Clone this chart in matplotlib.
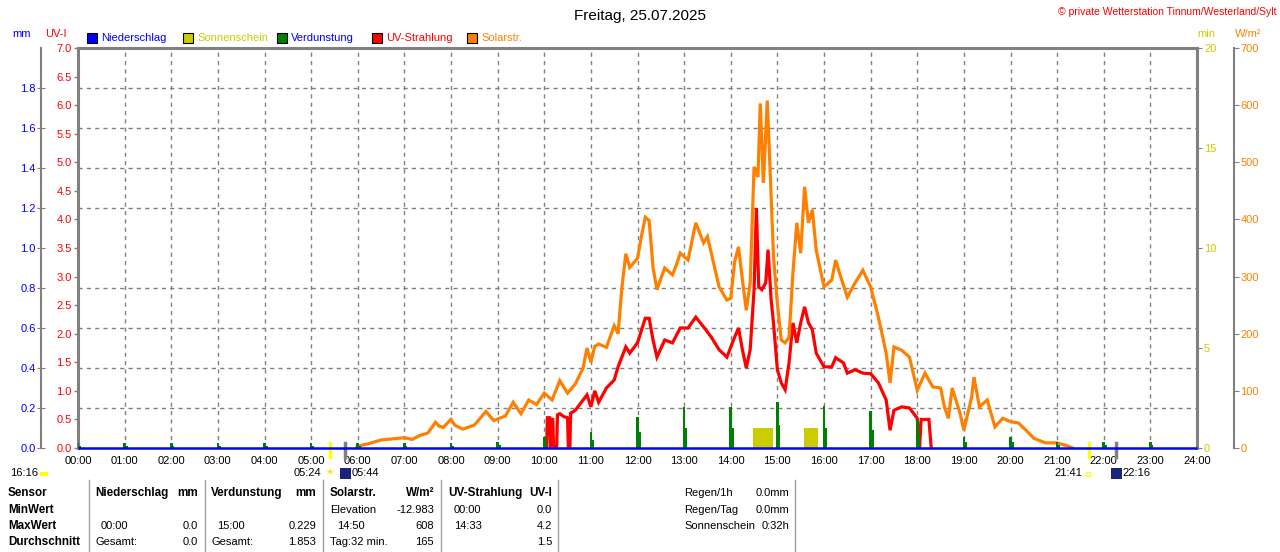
import matplotlib
matplotlib.use("Agg")
import matplotlib.pyplot as plt
from matplotlib.patches import Rectangle
import numpy as np

plt.rcParams['font.family'] = ['Liberation Sans', 'DejaVu Sans']

# ---------------- data ----------------
solar_times = ["05:58","06:00","06:15","06:30","06:45","07:00","07:10","07:20","07:30","07:40","07:45","07:50",
               "08:00","08:05","08:15","08:30","08:45","08:55","09:10","09:20","09:30","09:40","09:50",
               "10:00","10:10","10:20","10:30","10:40","10:50","10:55","11:00","11:05","11:10","11:20","11:30",
               "11:35","11:40","11:45","11:50","12:00","12:05","12:10","12:15","12:20","12:25","12:35","12:45",
               "12:50","12:55","13:05","13:15","13:25","13:30","13:35","13:45","13:55","14:00","14:05","14:10",
               "14:15","14:20","14:25","14:30","14:35","14:38","14:42","14:47","14:50","14:55","15:00","15:05",
               "15:10","15:15","15:20","15:25","15:30","15:35","15:40","15:45","15:50","16:00","16:10","16:15",
               "16:20","16:30","16:40","16:50","17:00","17:10","17:20","17:25","17:30","17:40","17:50","18:00",
               "18:10","18:20","18:30","18:35","18:40","18:45","18:55","19:00","19:10","19:13","19:20","19:30",
               "19:40","19:50","20:00","20:10","20:20","20:30","20:45","21:00","21:15","21:20"]
solar_vals = [0, 3, 8, 14, 16, 18, 15, 22, 26, 45, 38, 36,
              50, 40, 33, 40, 64, 48, 56, 80, 60, 84, 76,
              96, 84, 118, 96, 112, 140, 175, 150, 178, 182, 176, 214,
              200, 282, 340, 316, 332, 370, 404, 398, 316, 277, 315, 303,
              320, 341, 329, 394, 359, 370, 341, 282, 259, 262, 326, 352,
              294, 241, 289, 492, 474, 603, 464, 608, 509, 335, 253, 189,
              184, 194, 306, 394, 341, 457, 394, 417, 346, 282, 294, 329,
              306, 264, 289, 311, 282, 229, 166, 114, 177, 171, 159, 101,
              131, 107, 105, 72, 52, 105, 61, 31, 89, 124, 72, 84,
              37, 52, 46, 44, 31, 17, 9, 9, 3, 0]

uv_times = ["10:03","10:04","10:07","10:08","10:09","10:11","10:12","10:16","10:17","10:20","10:25","10:30",
            "10:31","10:33","10:34","10:40","10:50","10:55","11:00","11:05","11:10","11:20","11:30","11:35",
            "11:45","11:50","12:00","12:10","12:15","12:20","12:25","12:35","12:45","12:55","13:05","13:15",
            "13:25","13:35","13:45","13:55","14:05","14:10","14:15","14:20","14:25","14:30","14:33","14:36",
            "14:40","14:45","14:48","14:52","14:55","15:00","15:05","15:10","15:15","15:20","15:25","15:30",
            "15:35","15:40","15:45","15:50","16:00","16:10","16:15","16:25","16:30","16:40","16:50","17:00",
            "17:10","17:20","17:25","17:30","17:40","17:50","18:00","18:02","18:03","18:05","18:15","18:18"]
uv_vals = [0, 0.53, 0.53, 0, 0.5, 0.5, 0, 0, 0.58, 0.6, 0.55, 0.53,
           0, 0, 0.61, 0.66, 0.84, 0.93, 0.72, 1.0, 0.8, 1.05, 1.19, 1.42,
           1.77, 1.66, 1.84, 2.27, 2.27, 1.89, 1.59, 1.89, 1.84, 2.1, 2.1, 2.29,
           2.12, 1.94, 1.72, 1.59, 1.94, 2.1, 1.72, 1.4, 1.72, 2.77, 4.2, 2.82,
           2.77, 2.89, 3.47, 2.59, 2.19, 1.37, 1.14, 1.02, 1.49, 2.19, 1.84, 2.19,
           2.47, 2.19, 2.07, 1.66, 1.42, 1.42, 1.58, 1.49, 1.31, 1.37, 1.31, 1.3,
           1.14, 0.84, 0.31, 0.66, 0.72, 0.7, 0.52, 0.1, 0, 0.5, 0.5, 0]

evap_hours = list(range(24))
evap_main = [0.025, 0.025, 0.025, 0.025, 0.025, 0.025, 0.027, 0.027, 0.027, 0.03, 0.055, 0.08,
             0.155, 0.205, 0.205, 0.229, 0.21, 0.185, 0.14, 0.055, 0.055, 0.03, 0.03, 0.03]
evap_side = [0.012, 0.012, 0.012, 0.012, 0.012, 0.012, 0.012, 0.012, 0.012, 0.015, 0.03, 0.04,
             0.08, 0.1, 0.1, 0.115, 0.1, 0.09, 0.07, 0.03, 0.03, 0.015, 0.015, 0.015]

sun_start = ["14:29", "15:34"]
sun_end = ["14:54", "15:52"]
sun_minutes = [1.0, 1.0]

rain_hours = [0, 24]
rain_vals = [0.0, 0.0]

sunrise, civil_dawn = "05:24", "05:44"
sunset, civil_dusk = "21:41", "22:16"
day_length = "16:16"

hour_labels = ["%02d:00" % h for h in range(25)]
uv_ticks = [0.0, 0.5, 1.0, 1.5, 2.0, 2.5, 3.0, 3.5, 4.0, 4.5, 5.0, 5.5, 6.0, 6.5, 7.0]
mm_ticks = [0.0, 0.2, 0.4, 0.6, 0.8, 1.0, 1.2, 1.4, 1.6, 1.8]
sun_ticks = [0, 5, 10, 15, 20]
sol_ticks = [0, 100, 200, 300, 400, 500, 600, 700]


def hh(s):
    a, b = s.split(":")
    return int(a) + int(b) / 60.0


# ---------------- colours ----------------
C_BLUE = "#0000ff"
C_YEL = "#cccc00"
C_GRN = "#008000"
C_RED = "#ff0000"
C_ORG = "#ff8000"
C_GRY = "#808080"

W, H = 1280, 552
PX = 72.0 / 100.0  # points per pixel
fig = plt.figure(figsize=(12.8, 5.52), dpi=100)

x0, x1, ytop, ybot = 78, 1197, 48, 448
ax = fig.add_axes([x0 / W, 1 - ybot / H, (x1 - x0) / W, (ybot - ytop) / H])
ax.patch.set_alpha(0)

ax_sun = ax.twinx()
ax_sol = ax.twinx()
ax_mm = ax.twinx()
for a in (ax_sun, ax_sol, ax_mm):
    a.patch.set_alpha(0)

FS = 8

# --- spine positions first (setting them resets ticks) ---
ax_sol.spines['right'].set_position(('outward', 37 * PX))
ax_mm.yaxis.tick_left()
ax_mm.spines['left'].set_visible(True)
ax_mm.spines['left'].set_position(('outward', 37 * PX))

# --- base axis: UV + grid ---
ax.set_xlim(0, 24)
ax.set_ylim(0, 7)
ax.set_xticks(range(25))
ax.set_xticklabels(hour_labels)
ax.tick_params(axis='x', length=0, pad=6, colors='black', labelsize=FS)
ax.set_yticks(uv_ticks)
ax.set_yticklabels(["%.1f" % v for v in uv_ticks])
ax.tick_params(axis='y', which='major', labelcolor=C_RED, color=C_GRY, length=4 * PX, width=1,
               pad=1.5, direction='out', labelsize=FS)
ax.set_yticks(np.arange(0.7, 7.0, 0.7), minor=True)
ax.tick_params(axis='y', which='minor', length=0)
ax.grid(True, axis='x', which='major', color=C_GRY, linestyle=(0, (3, 3)), linewidth=1)
ax.grid(True, axis='y', which='minor', color=C_GRY, linestyle=(0, (3, 3)), linewidth=1)
ax.grid(False, axis='y', which='major')
for sp in ('left', 'top'):
    ax.spines[sp].set_color(C_GRY)
    ax.spines[sp].set_linewidth(2.2)
ax.spines['right'].set_visible(False)
ax.spines['bottom'].set_visible(False)

ax.plot([hh(t) for t in uv_times], uv_vals, color=C_RED, lw=2.3, solid_joinstyle='miter')

# --- sunshine axis (right, 0-20 min) ---
ax_sun.set_ylim(0, 20)
ax_sun.set_yticks(sun_ticks)
ax_sun.set_yticklabels([str(v) for v in sun_ticks])
ax_sun.tick_params(axis='y', labelcolor=C_YEL, color=C_GRY, length=5 * PX, pad=1.5, labelsize=FS)
ax_sun.spines['right'].set_color(C_GRY)
ax_sun.spines['right'].set_linewidth(2.2)
for sp in ('left', 'top', 'bottom'):
    ax_sun.spines[sp].set_visible(False)
for s0, s1, m in zip(sun_start, sun_end, sun_minutes):
    ax_sun.bar(hh(s0), m, width=hh(s1) - hh(s0), align='edge', color=C_YEL, linewidth=0)

# --- solar axis (right outer, 0-700 W/m2) ---
ax_sol.set_ylim(0, 700)
ax_sol.set_yticks(sol_ticks)
ax_sol.set_yticklabels([str(v) for v in sol_ticks])
ax_sol.spines['right'].set_color(C_GRY)
ax_sol.spines['right'].set_linewidth(1.5)
for sp in ('left', 'top', 'bottom'):
    ax_sol.spines[sp].set_visible(False)
ax_sol.tick_params(axis='y', labelcolor=C_ORG, color=C_GRY, length=5 * PX, pad=1, labelsize=FS)
ax_sol.plot([hh(t) for t in solar_times], solar_vals, color=C_ORG, lw=2.3, solid_joinstyle='miter')

# --- mm axis (left outer, 0-2 mm) ---
ax_mm.set_ylim(0, 2)
ax_mm.spines['left'].set_color(C_GRY)
ax_mm.spines['left'].set_linewidth(1.5)
for sp in ('right', 'top', 'bottom'):
    ax_mm.spines[sp].set_visible(False)
ax_mm.set_yticks(mm_ticks)
ax_mm.set_yticklabels(["%.1f" % v for v in mm_ticks])
ax_mm.tick_params(axis='y', labelcolor=C_BLUE, color=C_GRY, length=8 * PX, direction='inout',
                  pad=1, labelsize=FS)
ax_mm.bar(evap_hours, evap_main, width=0.055, color=C_GRN, linewidth=0)
ax_mm.bar([h + 0.045 for h in evap_hours], evap_side, width=0.04, color=C_GRN, linewidth=0)
ax_mm.plot(rain_hours, rain_vals, color=C_BLUE, lw=1.8, clip_on=False, solid_capstyle='butt')

# sunrise / sunset markers below axis
tr = ax.get_xaxis_transform()
for t, c in ((sunrise, "#ffff00"), (civil_dawn, C_GRY), (sunset, "#ffff00"), (civil_dusk, C_GRY)):
    ax.plot([hh(t), hh(t)], [0.0125, -0.0225], color=c, lw=2.5, transform=tr, clip_on=False)


def fx(px):
    return px / W


def fy(py):
    return 1 - py / H


# ---------------- header ----------------
fig.text(fx(640), fy(16), "Freitag, 25.07.2025", ha='center', va='center', fontsize=11)
fig.text(fx(1276), fy(12), "© private Wetterstation Tinnum/Westerland/Sylt", ha='right', va='center',
         fontsize=7.5, color=C_RED)
fig.text(fx(22), fy(34), "mm", ha='center', va='center', fontsize=FS, color=C_BLUE)
fig.text(fx(56), fy(34), "UV-I", ha='center', va='center', fontsize=FS, color=C_RED)
fig.text(fx(1206), fy(34), "min", ha='center', va='center', fontsize=FS, color=C_YEL)
fig.text(fx(1248), fy(34), "W/m²", ha='center', va='center', fontsize=FS, color=C_ORG)

legend = [("Niederschlag", C_BLUE, C_BLUE, 87), ("Sonnenschein", C_YEL, C_YEL, 183),
          ("Verdunstung", C_GRN, C_BLUE, 277), ("UV-Strahlung", C_RED, C_RED, 372),
          ("Solarstr.", C_ORG, C_ORG, 467)]
for name, sw, tc, px in legend:
    fig.add_artist(Rectangle((fx(px), fy(43)), 10 / W, 10 / H, transform=fig.transFigure,
                             facecolor=sw, edgecolor='black', linewidth=0.8))
    fig.text(fx(px + 14), fy(38), name, ha='left', va='center', fontsize=FS, color=tc)

# ---------------- sun times ----------------
fig.text(fx(10), fy(473), day_length, ha='left', va='center', fontsize=FS)
fig.add_artist(Rectangle((fx(40), fy(476)), 8 / W, 4 / H, transform=fig.transFigure,
                         facecolor="#ffff00", edgecolor='none'))
fig.text(fx(321), fy(473), sunrise, ha='right', va='center', fontsize=FS)
fig.text(fx(329), fy(473), "☀", ha='center', va='center', fontsize=8, color="#ffdd00",
         family=['DejaVu Sans'])
fig.add_artist(Rectangle((fx(340), fy(479)), 11 / W, 11 / H, transform=fig.transFigure,
                         facecolor="#1a237e", edgecolor='none'))
fig.text(fx(352), fy(473), civil_dawn, ha='left', va='center', fontsize=FS)
fig.text(fx(1082), fy(473), sunset, ha='right', va='center', fontsize=FS)
fig.add_artist(Rectangle((fx(1086), fy(476)), 4 / W, 4 / H, transform=fig.transFigure,
                         facecolor='none', edgecolor="#ffff00", linewidth=0.8))
fig.add_artist(Rectangle((fx(1111), fy(479)), 11 / W, 11 / H, transform=fig.transFigure,
                         facecolor="#1a237e", edgecolor='none'))
fig.text(fx(1122), fy(473), civil_dusk, ha='left', va='center', fontsize=FS)

# ---------------- table ----------------
for px in (89, 205, 323, 441, 558, 795):
    fig.add_artist(plt.Line2D([fx(px), fx(px)], [fy(480), fy(552)], transform=fig.transFigure,
                              color="#a0a0a0", lw=1))

rows = [493, 510, 526, 542]
bold_items = [(8, 0, "Sensor", 'left'), (8, 1, "MinWert", 'left'), (8, 2, "MaxWert", 'left'),
              (8, 3, "Durchschnitt", 'left'),
              (95, 0, "Niederschlag", 'left'), (198, 0, "mm", 'right'),
              (211, 0, "Verdunstung", 'left'), (316, 0, "mm", 'right'),
              (330, 0, "Solarstr.", 'left'), (434, 0, "W/m²", 'right'),
              (448, 0, "UV-Strahlung", 'left'), (552, 0, "UV-I", 'right')]
for px, r, s, ha in bold_items:
    fig.text(fx(px), fy(rows[r]), s, ha=ha, va='center', fontsize=8.4, fontweight='bold')

plain_items = [(101, 2, "00:00", 'left'), (198, 2, "0.0", 'right'),
               (95, 3, "Gesamt:", 'left'), (198, 3, "0.0", 'right'),
               (217, 2, "15:00", 'left'), (316, 2, "0.229", 'right'),
               (211, 3, "Gesamt:", 'left'), (316, 3, "1.853", 'right'),
               (330, 1, "Elevation", 'left'), (434, 1, "-12.983", 'right'),
               (337, 2, "14:50", 'left'), (434, 2, "608", 'right'),
               (330, 3, "Tag:32 min.", 'left'), (434, 3, "165", 'right'),
               (454, 1, "00:00", 'left'), (552, 1, "0.0", 'right'),
               (454, 2, "14:33", 'left'), (552, 2, "4.2", 'right'),
               (552, 3, "1.5", 'right'),
               (684, 0, "Regen/1h", 'left'), (789, 0, "0.0mm", 'right'),
               (684, 1, "Regen/Tag", 'left'), (789, 1, "0.0mm", 'right'),
               (684, 2, "Sonnenschein", 'left'), (789, 2, "0:32h", 'right')]
for px, r, s, ha in plain_items:
    fig.text(fx(px), fy(rows[r]), s, ha=ha, va='center', fontsize=FS)

fig.savefig("out.png", dpi=100)
